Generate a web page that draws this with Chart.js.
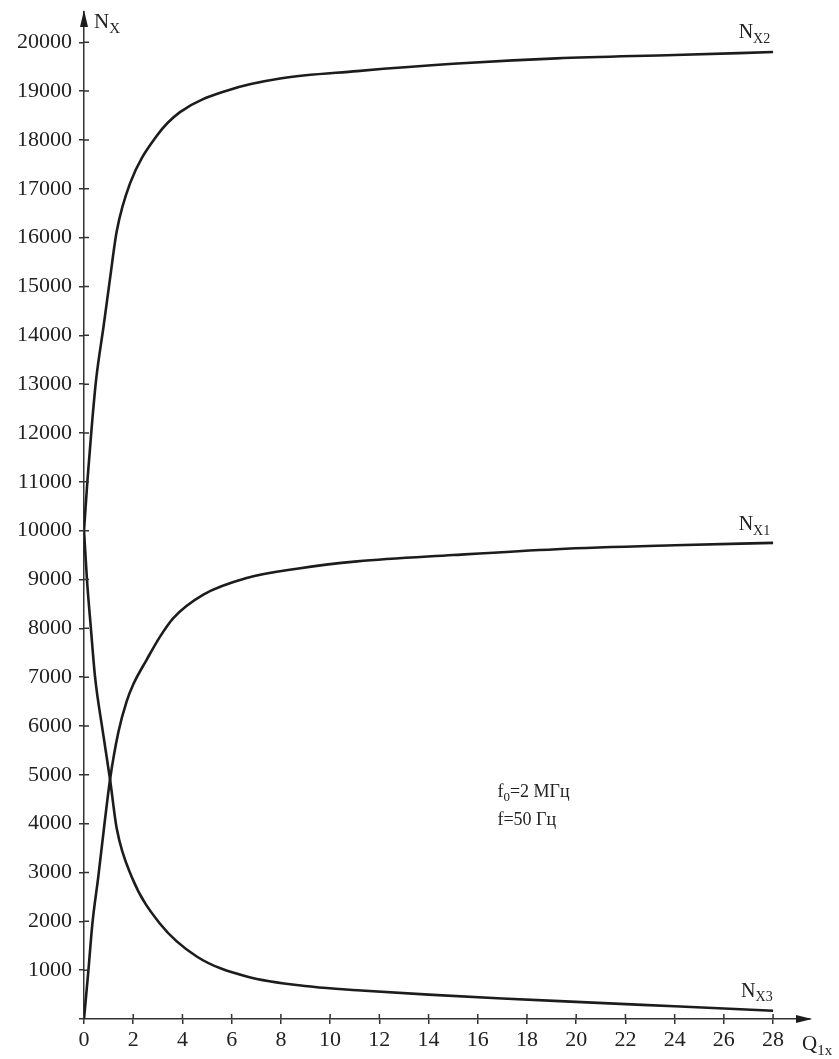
<!DOCTYPE html>
<html>
<head>
<meta charset="utf-8">
<script src="https://cdn.jsdelivr.net/npm/chart.js@4"></script>
<style>
  body { margin: 0; background: #fff; }
  #wrap { width: 839px; height: 1059px; }
</style>
</head>
<body>
<div id="wrap"><canvas id="chart1" width="839" height="1059"></canvas></div>
<script>
// values (Q on x, N on y)
const q2 = [0, 0.14, 0.31, 0.49, 0.8, 1.06, 1.33, 1.87, 2.95, 3.9, 5.93, 7.97, 11.1, 15, 19.2, 24, 28];
const nx2 = [10000, 11030, 12100, 13080, 14200, 15170, 16130, 17110, 18080, 18570, 19030, 19260, 19410, 19560, 19670, 19740, 19800];

const q1 = [0, 0.18, 0.34, 0.58, 0.81, 1.06, 1.4, 1.73, 2.0, 2.55, 3.09, 3.63, 4.85, 6.61, 8.65, 11.1, 15, 19.2, 24, 28];
const nx1 = [0, 1000, 1950, 2910, 3900, 4910, 5880, 6500, 6850, 7360, 7830, 8210, 8690, 9030, 9220, 9370, 9500, 9620, 9700, 9750];

const q3 = [0, 0.12, 0.28, 0.45, 0.76, 1.06, 1.33, 1.94, 3.09, 4.58, 6.61, 9.3, 11.1, 14, 17, 20, 24, 28];
const nx3 = [10000, 9000, 8000, 7000, 5900, 4900, 3900, 2910, 1950, 1280, 870, 660, 590, 500, 420, 350, 260, 170];

const xTicks = [0, 2, 4, 6, 8, 10, 12, 14, 16, 18, 20, 22, 24, 26, 28];

const serif = '"Liberation Serif", "DejaVu Serif", serif';
const ink = '#1c1c1c';

function pts(xs, ys) {
    return xs.map((v, i) => ({x: v, y: ys[i]}));
}

function curve(label, xs, ys) {
    return {
        label: label,
        data: pts(xs, ys),
        showLine: true,
        borderColor: ink,
        borderWidth: 2.6,
        pointRadius: 0,
        cubicInterpolationMode: 'monotone',
        fill: false
    };
}

// text with subscripts: parts = [[text, isSub], ...]
function drawParts(ctx, px, py, parts, size) {
    let cx = px;
    parts.forEach(p => {
        const s = p[1] ? Math.round(size * 0.72) : size;
        ctx.font = s + 'px ' + serif;
        ctx.fillText(p[0], cx, p[1] ? py + size * 0.22 : py);
        cx += ctx.measureText(p[0]).width;
    });
}

const annot = {
    id: 'annot',
    afterDraw(chart) {
        const ctx = chart.ctx;
        const x = chart.scales.x, y = chart.scales.y, a = chart.chartArea;
        ctx.save();
        // inner halves of the cross-shaped ticks
        ctx.strokeStyle = '#333';
        ctx.lineWidth = 1.5;
        ctx.beginPath();
        y.ticks.forEach(t => {
            if (t.value === 0) return;
            const py = y.getPixelForValue(t.value);
            ctx.moveTo(a.left, py);
            ctx.lineTo(a.left + 5, py);
        });
        x.ticks.forEach(t => {
            if (t.value === 0) return;
            const px = x.getPixelForValue(t.value);
            ctx.moveTo(px, a.bottom);
            ctx.lineTo(px, a.bottom - 5);
        });
        ctx.stroke();

        // arrow heads
        ctx.fillStyle = ink;
        ctx.beginPath();
        ctx.moveTo(a.left, a.top - 2);
        ctx.lineTo(a.left - 4, a.top + 15);
        ctx.lineTo(a.left + 4, a.top + 15);
        ctx.closePath();
        ctx.fill();
        ctx.beginPath();
        ctx.moveTo(a.right + 2, a.bottom);
        ctx.lineTo(a.right - 14, a.bottom - 4);
        ctx.lineTo(a.right - 14, a.bottom + 4);
        ctx.closePath();
        ctx.fill();

        ctx.textAlign = 'left';
        ctx.textBaseline = 'alphabetic';
        ctx.fillStyle = '#222';
        // axis titles
        drawParts(ctx, a.left + 10, a.top + 16, [['N', false], ['X', true]], 21);
        drawParts(ctx, a.right - 8, a.bottom + 31, [['Q', false], ['1x', true]], 21);
        // curve labels
        drawParts(ctx, x.getPixelForValue(26.6), y.getPixelForValue(20080), [['N', false], ['X2', true]], 20);
        drawParts(ctx, x.getPixelForValue(26.6), y.getPixelForValue(10010), [['N', false], ['X1', true]], 20);
        drawParts(ctx, x.getPixelForValue(26.7), y.getPixelForValue(450), [['N', false], ['X3', true]], 20);
        // conditions
        drawParts(ctx, x.getPixelForValue(16.8), y.getPixelForValue(4545), [['f', false], ['0', true], ['=2 МГц', false]], 18);
        drawParts(ctx, x.getPixelForValue(16.8), y.getPixelForValue(3970), [['f=50 Гц', false]], 18);
        ctx.restore();
    }
};

const tickFont = {family: serif, size: 22};

const config = {
    type: 'scatter',
    data: {
        datasets: [
            curve('Nx2', q2, nx2),
            curve('Nx1', q1, nx1),
            curve('Nx3', q3, nx3)
        ]
    },
    options: {
        responsive: false,
        animation: false,
        layout: {padding: {top: 12, right: 29, bottom: 0, left: 0}},
        plugins: {legend: {display: false}, tooltip: {enabled: false}},
        scales: {
            x: {
                type: 'linear',
                min: 0,
                max: 29.5,
                afterFit: s => { s.height = 40; s.paddingLeft = 0; s.paddingRight = 0; },
                afterBuildTicks: s => { s.ticks = xTicks.map(v => ({value: v})); },
                border: {color: '#333', width: 1.5},
                grid: {drawOnChartArea: false, tickLength: 5, color: '#333', lineWidth: 1.5},
                ticks: {
                    autoSkip: false, maxRotation: 0, padding: 3,
                    color: '#222', font: tickFont,
                    callback: v => String(v)
                }
            },
            y: {
                type: 'linear',
                min: 0,
                max: 20620,
                afterFit: s => { s.width = 84; s.paddingTop = 0; s.paddingBottom = 0; },
                afterBuildTicks: s => {
                    const t = [];
                    for (let v = 0; v <= 20000; v += 1000) t.push({value: v});
                    s.ticks = t;
                },
                border: {color: '#333', width: 1.5},
                grid: {drawOnChartArea: false, tickLength: 5, color: '#333', lineWidth: 1.5},
                ticks: {
                    autoSkip: false, padding: 7,
                    color: '#222', font: tickFont,
                    callback: v => v === 0 ? '' : String(v)
                }
            }
        }
    },
    plugins: [annot]
};

let chart = new Chart(document.getElementById('chart1'), config);
</script>
</body>
</html>
